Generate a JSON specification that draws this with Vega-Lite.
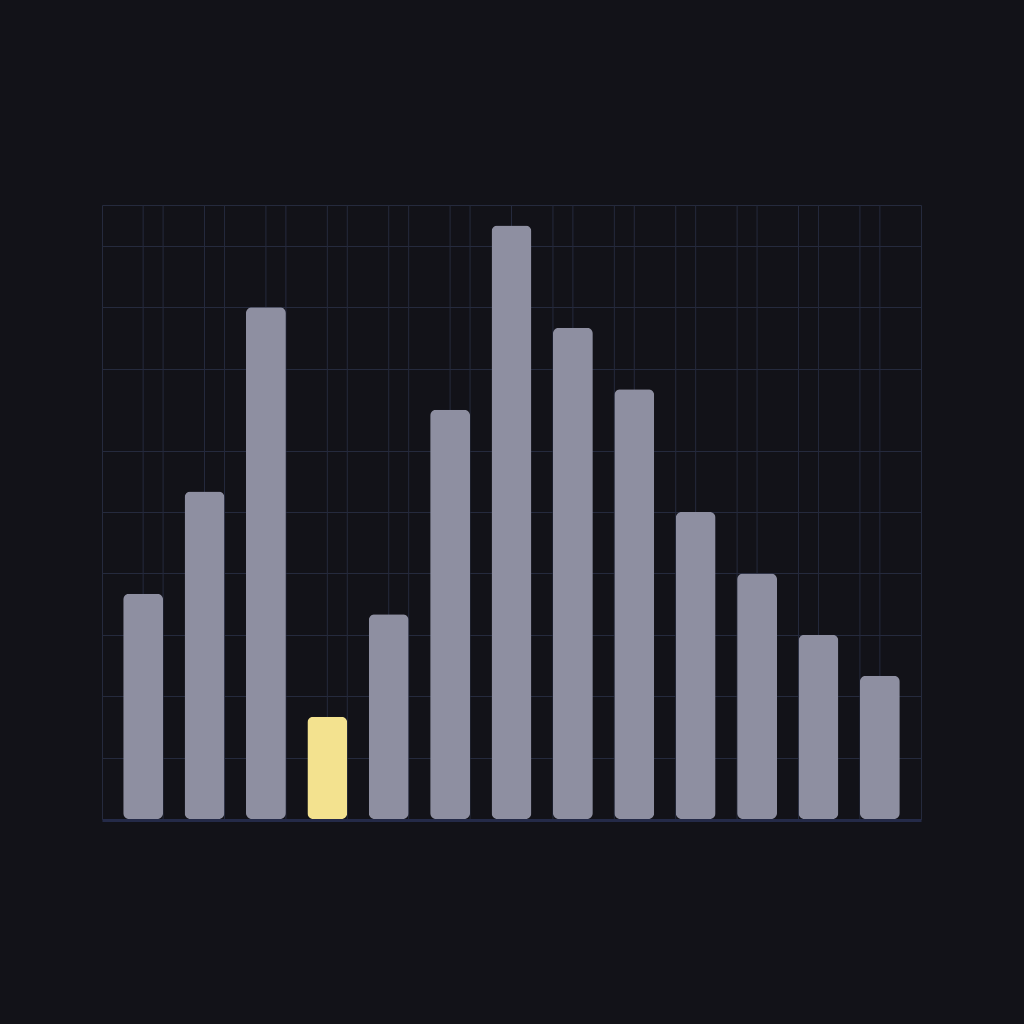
{
  "$schema": "https://vega.github.io/schema/vega-lite/v6.json",
  "autosize": {"type": "none"},
  "padding": {"left": 102, "top": 205, "right": 103, "bottom": 205},
  "width": 819,
  "height": 614,
  "background": "#121218",
  "data": {"values": [
    {"x": 1, "v": 11}, {"x": 2, "v": 16}, {"x": 3, "v": 25}, {"x": 4, "v": 5},
    {"x": 5, "v": 10}, {"x": 6, "v": 20}, {"x": 7, "v": 29}, {"x": 8, "v": 24},
    {"x": 9, "v": 21}, {"x": 10, "v": 15}, {"x": 11, "v": 12}, {"x": 12, "v": 9},
    {"x": 13, "v": 7}
  ]},
  "config": {
    "view": {"stroke": "#252a3d", "strokeWidth": 1},
    "axisX": {"labels": false, "ticks": false, "grid": false, "domainColor": "#242a48", "domainWidth": 3, "zindex": 1, "offset": 1},
    "axisY": {"labels": false, "ticks": false, "domain": false, "gridColor": "#252a3d", "gridWidth": 1, "gridOpacity": 1}
  },
  "layer": [
    {
      "mark": {"type": "rule", "stroke": "#252a3d", "strokeWidth": 1},
      "encoding": {
        "x": {"field": "x", "type": "ordinal", "title": null, "bandPosition": 0.5,
              "scale": {"type": "band", "paddingInner": 0.35, "paddingOuter": 0.345}}
      }
    },
    {
      "transform": [{"filter": "datum.x <= 6"}],
      "mark": {"type": "rule", "stroke": "#252a3d", "strokeWidth": 1},
      "encoding": {
        "x": {"field": "x", "type": "ordinal", "title": null, "bandPosition": 1}
      }
    },
    {
      "transform": [{"filter": "datum.x >= 8"}],
      "mark": {"type": "rule", "stroke": "#252a3d", "strokeWidth": 1},
      "encoding": {
        "x": {"field": "x", "type": "ordinal", "title": null, "bandPosition": 0}
      }
    },
    {
      "mark": {"type": "bar", "cornerRadius": 6},
      "encoding": {
        "x": {"field": "x", "type": "ordinal", "title": null},
        "y": {"field": "v", "type": "quantitative", "title": null,
              "scale": {"domain": [0, 30], "nice": false, "zero": true},
              "axis": {"values": [3, 6, 9, 12, 15, 18, 22, 25, 28], "grid": true}},
        "color": {
          "condition": {"test": "datum.x === 4", "value": "#f3e28f"},
          "value": "#8e8fa1"
        }
      }
    }
  ]
}
